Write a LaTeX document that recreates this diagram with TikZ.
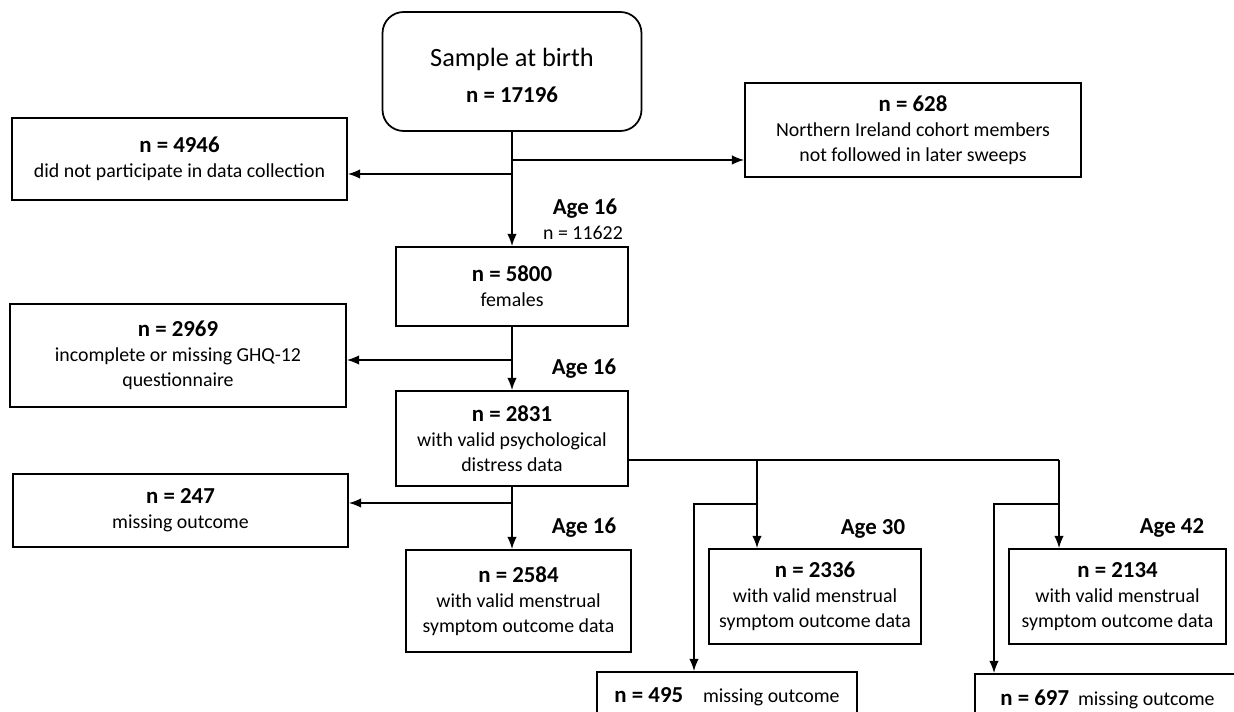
\documentclass[tikz,border=0pt]{standalone}
\usepackage{fontspec}
\setmainfont{Carlito}
\usetikzlibrary{arrows,arrows.meta,calc}

\newcommand{\nn}[1]{{\fontsize{13}{14.2}\selectfont\bfseries #1}}

\tikzset{
	box/.style={draw, line width=1pt, align=center, inner sep=2pt, font=\fontsize{11.3}{14.2}\selectfont},
	agelabel/.style={font=\fontsize{13}{15}\selectfont\bfseries},
	flow/.style={-{Latex[length=7pt,width=5.5pt]}, line width=1pt},
	link/.style={line width=1pt}
}

\begin{document}
\begin{tikzpicture}[x=0.02cm,y=-0.02cm]
	\clip (0,0) rectangle (1234,712);
	
	\node[box, rounded corners=12pt, minimum width=5.18cm, minimum height=2.38cm] (birth) at (512,71.5) {\rule{0pt}{15pt}{\fontsize{15}{18}\selectfont Sample at birth}\\[6pt]\nn{n = 17196}};
	\node[box, minimum width=6.70cm, minimum height=1.64cm] (n4946) at (179.5,159) {\nn{n = 4946}\\did not participate in data collection};
	\node[box, minimum width=6.72cm, minimum height=1.88cm] (n628) at (913,130) {\nn{n = 628}\\Northern Ireland cohort members\\not followed in later sweeps};
	\node[box, minimum width=4.64cm, minimum height=1.58cm] (n5800) at (512,286.5) {\nn{n = 5800}\\females};
	\node[box, minimum width=6.72cm, minimum height=2.06cm] (n2969) at (178,355.5) {\nn{n = 2969}\\incomplete or missing GHQ-12\\questionnaire};
	\node[box, minimum width=4.64cm, minimum height=1.90cm] (n2831) at (512,438.5) {\nn{n = 2831}\\with valid psychological\\distress data};
	\node[box, minimum width=6.70cm, minimum height=1.46cm] (n247) at (180.5,510.5) {\nn{n = 247}\\missing outcome};
	\node[box, minimum width=4.50cm, minimum height=2.04cm] (n2584) at (518.5,601) {\nn{n = 2584}\\with valid menstrual\\symptom outcome data};
	\node[box, minimum width=4.24cm, minimum height=1.90cm] (n2336) at (815,596.5) {\nn{n = 2336}\\with valid menstrual\\symptom outcome data};
	\node[box, minimum width=4.34cm, minimum height=1.90cm] (n2134) at (1117.5,596.5) {\nn{n = 2134}\\with valid menstrual\\symptom outcome data};
	\node[box, minimum width=5.20cm, minimum height=1.00cm] (n495) at (727,697) {\nn{n = 495}\quad missing outcome};
	\node[box, minimum width=5.30cm, minimum height=1.00cm] (n697) at (1107.5,699) {\nn{n = 697}\ \ missing outcome};
	
	\node[agelabel] (age16a) at (585,209) {Age 16};
	\node[font=\fontsize{11.3}{12}\selectfont] (n11622) at (583,233) {n = 11622};
	\node[agelabel] (age16b) at (584,369) {Age 16};
	\node[agelabel] (age16c) at (584,528) {Age 16};
	\node[agelabel] (age30) at (873,529) {Age 30};
	\node[agelabel] (age42) at (1172,528) {Age 42};
	
	\coordinate (split1) at (512,174);
	\coordinate (split2) at (512,160);
	\coordinate (split3) at (512,360);
	\coordinate (split4) at (512,503);
	\coordinate (later) at (628,460);
	\coordinate (j30) at (757,460);
	\coordinate (j42) at (1059,460);
	\coordinate (m30) at (757,504);
	\coordinate (m42) at (1059,504);
	\coordinate (d30) at (694,504);
	\coordinate (d42) at (994,504);
	
	\draw[flow] (birth.south) -- (n5800.north);
	\draw[flow] (split1) -- (split1 -| n4946.east);
	\draw[flow] (split2) -- (split2 -| n628.west);
	\draw[flow] (n5800.south) -- (n2831.north);
	\draw[flow] (split3) -- (split3 -| n2969.east);
	\draw[flow] (n2831.south) -- (n2831.south |- n2584.north);
	\draw[flow] (split4) -- (split4 -| n247.east);
	\draw[link] (later) -- (j42);
	\draw[flow] (j30) -- (j30 |- n2336.north);
	\draw[flow] (j42) -- (j42 |- n2134.north);
	\draw[flow] (m30) -- (d30) -- (d30 |- n495.north);
	\draw[flow] (m42) -- (d42) -- (d42 |- n697.north);
\end{tikzpicture}
\end{document}
